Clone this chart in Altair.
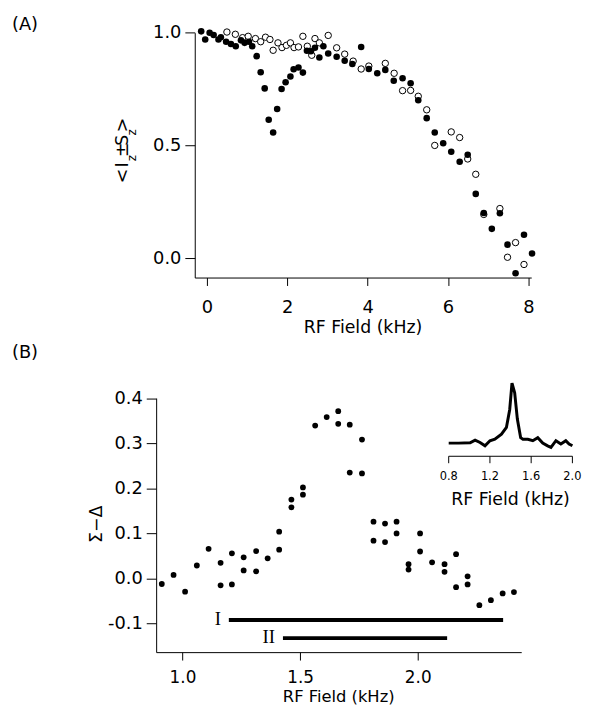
import altair as alt
import pandas as pd

FONT = "DejaVu Sans"

# ---- Panel A data: RF field (kHz) vs <Iz±Sz>
a_filled_x = [-0.14, -0.04, 0.07, 0.17, 0.29, 0.35, 0.48, 0.60, 0.72, 0.85, 0.94, 1.05, 1.13,
              1.24, 1.34, 1.44, 1.54, 1.65, 1.75, 1.86, 1.96, 2.08, 2.16, 2.28, 2.39, 2.49,
              2.59, 2.69, 2.80, 2.90, 3.02, 3.23, 3.43, 3.62, 3.84, 4.03, 4.24, 4.44, 4.65,
              4.87, 5.07, 5.26, 5.47, 5.67, 5.88, 6.08, 6.29, 6.49, 6.69, 6.89, 7.09, 7.29,
              7.48, 7.68, 7.89, 8.09]
a_filled_y = [1.006, 0.97, 1.0, 0.99, 0.97, 0.98, 0.96, 0.95, 0.94, 0.966, 0.955, 0.96, 0.94,
              0.896, 0.825, 0.753, 0.614, 0.557, 0.662, 0.75, 0.78, 0.806, 0.838, 0.846, 0.823,
              0.92, 0.918, 0.933, 0.89, 0.94, 0.908, 0.893, 0.876, 0.861, 0.937, 0.839, 0.82,
              0.835, 0.787, 0.798, 0.776, 0.70, 0.621, 0.557, 0.51, 0.472, 0.428, 0.459, 0.285,
              0.20, 0.13, 0.199, 0.06, -0.067, 0.104, 0.021]
a_open_x = [0.50, 0.71, 0.89, 1.03, 1.21, 1.34, 1.46, 1.57, 1.65, 1.77, 1.87, 1.98, 2.08, 2.17,
            2.28, 2.39, 2.50, 2.61, 2.69, 2.80, 3.02, 3.23, 3.43, 3.64, 3.84, 4.03, 4.44, 4.66,
            4.87, 5.07, 5.26, 5.47, 5.67, 6.08, 6.29, 6.49, 6.69, 6.89, 7.29, 7.48, 7.68, 7.89]
a_open_y = [1.003, 0.993, 0.978, 0.984, 0.974, 0.96, 0.98, 0.97, 0.922, 0.955, 0.934, 0.944,
            0.955, 0.934, 0.937, 0.984, 0.94, 0.90, 0.974, 0.955, 0.988, 0.933, 0.905, 0.874,
            0.839, 0.852, 0.864, 0.82, 0.743, 0.744, 0.718, 0.658, 0.50, 0.56, 0.535, 0.44,
            0.372, 0.194, 0.22, 0.004, 0.069, -0.028]
a_ticks = [0, 2, 4, 6, 8]
a_yticks = [0.0, 0.5, 1.0]

# ---- Panel B data: RF field (kHz) vs Σ−Δ
b_x = [0.912, 0.962, 1.011, 1.061, 1.111, 1.162, 1.162, 1.21, 1.21, 1.26, 1.26, 1.313, 1.313,
       1.362, 1.411, 1.411, 1.463, 1.463, 1.512, 1.512, 1.564, 1.613, 1.662, 1.662, 1.711,
       1.711, 1.763, 1.763, 1.812, 1.812, 1.861, 1.861, 1.91, 1.91, 1.961, 1.961, 2.01, 2.01,
       2.061, 2.114, 2.114, 2.163, 2.163, 2.212, 2.212, 2.262, 2.311, 2.361, 2.409]
b_y = [-0.012, 0.008, -0.029, 0.029, 0.066, 0.035, -0.015, 0.056, -0.013, 0.047, 0.018, 0.061,
       0.016, 0.045, 0.104, 0.064, 0.175, 0.158, 0.202, 0.186, 0.339, 0.358, 0.371, 0.343,
       0.341, 0.235, 0.308, 0.233, 0.126, 0.084, 0.122, 0.081, 0.126, 0.10, 0.032, 0.02, 0.10,
       0.06, 0.036, 0.032, 0.015, 0.054, -0.019, 0.005, -0.013, -0.059, -0.048, -0.033, -0.030]
b_ticks = [1.0, 1.5, 2.0]
b_yticks = [-0.1, 0.0, 0.1, 0.2, 0.3, 0.4]

range_labels = ["I", "II"]
range_start = [1.197, 1.427]
range_end = [2.363, 2.125]
range_level = [-0.092, -0.132]

# ---- Inset spectrum
inset_x = [0.8, 0.896, 1.008, 1.056, 1.104, 1.152, 1.2, 1.248, 1.312, 1.36, 1.392, 1.414, 1.44,
           1.466, 1.498, 1.52, 1.568, 1.616, 1.664, 1.712, 1.76, 1.792, 1.84, 1.888, 1.936,
           1.968, 2.0]
inset_y = [0.0, 0.0, 0.005, 0.05, 0.01, -0.045, 0.04, 0.065, 0.15, 0.26, 0.56, 1.0, 0.84, 0.4,
           0.09, 0.065, 0.065, 0.04, 0.09, 0.0, -0.045, -0.07, 0.04, -0.015, 0.04, -0.015,
           -0.045]
inset_ticks = [0.8, 1.2, 1.6, 2.0]
inset_tick_labels = ["0.8", "1.2", "1.6", "2.0"]

dfA_f = pd.DataFrame({"f": a_filled_x, "s": a_filled_y})
dfA_o = pd.DataFrame({"f": a_open_x, "s": a_open_y})
dfB = pd.DataFrame({"f": b_x, "d": b_y})
dfR = pd.DataFrame({"label": range_labels, "f": range_start, "f2": range_end, "d": range_level})
dfI = pd.DataFrame({"f": inset_x, "v": inset_y})
dfIT = pd.DataFrame({"f": inset_ticks, "lab": inset_tick_labels})
dfID = pd.DataFrame({"f": [inset_ticks[0]], "f2": [inset_ticks[-1]]})

# Whole figure is one view (page minus 8px margins); each panel has its own scales
W, H = 574, 701
LBL = 18


def txt(text, x, y, size=17.5, angle=0, align="center", font=FONT):
    return alt.Chart(pd.DataFrame({"t": [text]})).mark_text(
        text=text, font=font, fontSize=size, angle=angle, align=align,
        baseline="middle", color="black"
    ).encode(x=alt.value(x), y=alt.value(y))


# ---------------- Panel A ----------------
A_left, A_right, A_top, A_bot = 188.7, 528.7, 21.3, 268.7
xA_scale = alt.Scale(domain=[-0.3, 8.07], range=[A_left, A_right], nice=False, zero=False)
yA_scale = alt.Scale(domain=[-0.086, 1.0], range=[A_bot, A_top], nice=False, zero=False)
xA_axis = alt.Axis(orient="bottom", offset=A_bot - H, values=a_ticks, format="d", title=None,
                   tickSize=8, labelPadding=13, labelFontSize=LBL)
yA_axis = alt.Axis(orient="left", offset=-A_left, values=a_yticks, format=".1f", title=None,
                   tickSize=10, labelPadding=4, labelFontSize=LBL)

openA = alt.Chart(dfA_o).mark_circle(fill="white", stroke="black", strokeWidth=1,
                                     size=42, opacity=1).encode(
    x=alt.X("f:Q", scale=xA_scale, axis=None), y=alt.Y("s:Q", scale=yA_scale, axis=None))
fillA = alt.Chart(dfA_f).mark_circle(color="black", size=44, opacity=1).encode(
    x=alt.X("f:Q", scale=xA_scale, axis=xA_axis), y=alt.Y("s:Q", scale=yA_scale, axis=yA_axis))

mx, sx = 116.0, 125.7
textA = [
    txt("<", mx, 166, angle=270), txt("I", mx, 155, angle=270),
    txt("z", sx, 148, size=12, angle=270), txt("±", mx, 139.5, angle=270),
    txt("S", mx, 130, angle=270), txt("z", sx, 122, size=12, angle=270),
    txt(">", mx, 114.5, angle=270),
    txt("(A)", 4, 13.7, size=18, align="left"),
    txt("RF Field (kHz)", (A_left + A_right) / 2, 320),
]

# ---------------- Panel B ----------------
B_left, B_right, B_top, B_bot = 149.7, 518.6, 390.5, 647.2
xB_scale = alt.Scale(domain=[0.888, 2.44], range=[B_left, B_right], nice=False, zero=False)
yB_scale = alt.Scale(domain=[-0.163, 0.4], range=[B_bot, B_top], nice=False, zero=False)
xB_axis = alt.Axis(orient="bottom", offset=B_bot - H, values=b_ticks, format=".1f", title=None,
                   tickSize=8, labelPadding=10, labelFontSize=17)
yB_axis = alt.Axis(orient="left", offset=-B_left, values=b_yticks, title=None, tickSize=10,
                   labelPadding=4, labelFontSize=LBL,
                   labelExpr="datum.value < 0 ? '-' + format(-datum.value, '.1f') : format(datum.value, '.1f')")

ptsB = alt.Chart(dfB).mark_circle(color="black", size=34, opacity=1).encode(
    x=alt.X("f:Q", scale=xB_scale, axis=xB_axis), y=alt.Y("d:Q", scale=yB_scale, axis=yB_axis))
rulesB = alt.Chart(dfR).mark_rule(color="black", strokeWidth=4).encode(
    x=alt.X("f:Q", scale=xB_scale, axis=None), x2="f2:Q",
    y=alt.Y("d:Q", scale=yB_scale, axis=None))
lblB = alt.Chart(dfR).mark_text(font="Liberation Serif", fontSize=19, align="right",
                                baseline="middle", dx=-8, dy=-1, color="black").encode(
    x=alt.X("f:Q", scale=xB_scale, axis=None),
    y=alt.Y("d:Q", scale=yB_scale, axis=None), text="label:N")

textB = [
    txt("Σ−Δ", 90, 518, angle=270),
    txt("(B)", 4, 345, size=18, align="left"),
    txt("RF Field (kHz)", (B_left + B_right) / 2, 692.3, size=16.5),
]

# ---------------- Inset ----------------
I_left, I_right, I_base, I_peak, I_axis = 445.3, 570.3, 436.0, 375.3, 449.3
xI_scale = alt.Scale(domain=[0.8, 2.0], range=[I_left, I_right], nice=False, zero=False)
yI_scale = alt.Scale(domain=[0, 1], range=[I_base, I_peak], nice=False, zero=False)
inset_line = alt.Chart(dfI).mark_line(color="black", strokeWidth=3).encode(
    x=alt.X("f:Q", scale=xI_scale, axis=None), y=alt.Y("v:Q", scale=yI_scale, axis=None))
inset_dom = alt.Chart(dfID).mark_rule(color="black", strokeWidth=1).encode(
    x=alt.X("f:Q", scale=xI_scale, axis=None), x2="f2:Q", y=alt.value(I_axis))
inset_tk = alt.Chart(dfIT).mark_rule(color="black", strokeWidth=1).encode(
    x=alt.X("f:Q", scale=xI_scale, axis=None), y=alt.value(I_axis), y2=alt.value(I_axis + 7))
inset_lb = alt.Chart(dfIT).mark_text(font=FONT, fontSize=11.5, baseline="middle",
                                     color="black").encode(
    x=alt.X("f:Q", scale=xI_scale, axis=None), y=alt.value(470), text="lab:N")
textI = [txt("RF Field (kHz)", (I_left + I_right) / 2, 493.7)]

chart = alt.layer(
    openA, fillA, *textA,
    ptsB, rulesB, lblB, *textB,
    inset_line, inset_dom, inset_tk, inset_lb, *textI,
).resolve_scale(x="independent", y="independent").properties(
    width=W, height=H, padding=0
).configure_axis(
    domainColor="black", tickColor="black", labelColor="black", titleColor="black",
    labelFont=FONT, titleFont=FONT, grid=False, domainWidth=1, tickWidth=1
).configure_view(stroke=None)

chart.save("out.html", embed_options={"renderer": "svg", "actions": False})
